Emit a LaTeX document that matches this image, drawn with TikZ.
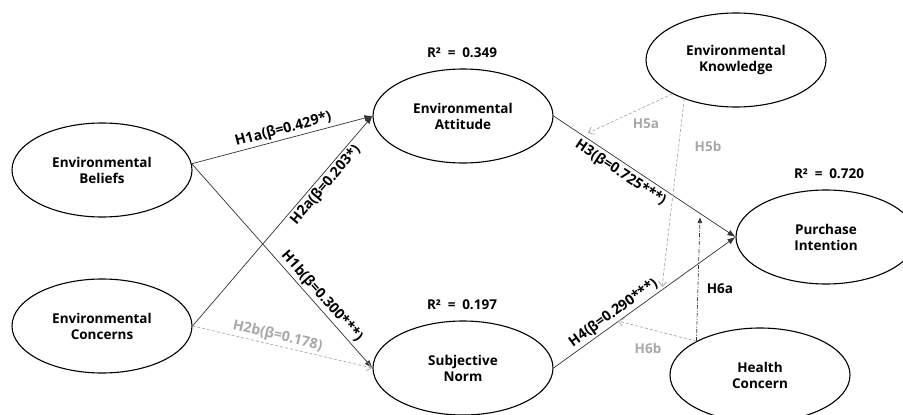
\documentclass[tikz,border=0pt]{standalone}
\usepackage{fontspec}
\setmainfont{Open Sans}
\usetikzlibrary{shapes.geometric,arrows.meta}
\definecolor{lgray}{HTML}{A8A8A8}
\tikzset{
  construct/.style={ellipse,draw=black,line width=1.1pt,minimum width=180pt,minimum height=94pt,inner sep=0pt,align=center,font=\bfseries\fontsize{13.5}{16}\selectfont},
  rlabel/.style={font=\bfseries\fontsize{13.5}{16}\selectfont},
  mainpath/.style={draw=black!80,line width=0.7pt,-{Latex[length=8pt,width=6pt]}},
  nspath/.style={draw=lgray,line width=0.7pt,dash pattern=on 3pt off 2pt,-{Straight Barb[length=5pt,width=8pt]}},
  modpath/.style={draw=black!80,line width=0.7pt,dash pattern=on 4pt off 1.5pt on 1pt off 1.5pt,-{Latex[length=6pt,width=5pt]}},
  elab/.style={font=\bfseries\fontsize{14.2}{16}\selectfont,inner sep=2pt,text=black},
  glab/.style={font=\bfseries\fontsize{13.5}{15}\selectfont,inner sep=2pt,text=lgray},
}
\begin{document}
\begin{tikzpicture}[x=1pt,y=-1pt]
\useasboundingbox (0,0) rectangle (903,415);
\node[construct] (EB) at (102,170) {Environmental\\Beliefs};
\node[construct] (EC) at (102,326) {Environmental\\Concerns};
\node[construct] (EA) at (463,116) {Environmental\\Attitude};
\node[construct] (SN) at (463,368) {Subjective\\Norm};
\node[construct] (EK) at (736,60) {Environmental\\Knowledge};
\node[construct] (PI) at (826,237) {Purchase\\Intention};
\node[construct] (HC) at (760,375) {Health\\Concern};
\node[rlabel] (r1) at (462,53) {R²\hspace{0.5em}=\hspace{0.5em}0.349};
\node[rlabel] (r2) at (462,305) {R²\hspace{0.5em}=\hspace{0.5em}0.197};
\node[rlabel] (r3) at (829,174) {R²\hspace{0.5em}=\hspace{0.5em}0.720};
\coordinate (m5a) at (588,133);
\coordinate (m5b) at (662,287);
\coordinate (m6a) at (700,217);
\coordinate (m6b) at (618,321);
\draw[mainpath] (EB.4) -- (EA.west) node[elab,pos=0.52,sloped,above] {H1a(β=0.429*)};
\draw[mainpath] (EB.4) -- (SN.west) node[elab,pos=0.68,sloped,above] {H1b(β=0.300***)};
\draw[mainpath] (EC.east) -- (EA.west) node[elab,pos=0.70,sloped,below] {H2a(β=0.203*)};
\draw[nspath] (EC.east) -- (SN.west) node[glab,font=\bfseries\fontsize{14.2}{16}\selectfont,pos=0.46,sloped,above] {H2b(β=0.178)};
\draw[mainpath] (EA.east) -- (PI.west) node[elab,pos=0.40,sloped,below,inner sep=3pt] {H3(β=0.725***)};
\draw[mainpath] (SN.east) -- (PI.west) node[elab,pos=0.36,sloped,above] {H4(β=0.290***)};
\draw[nspath] (EK.208) -- (m5a);
\draw[nspath] (EK.217) -- (m5b);
\draw[modpath] (HC.152) -- (m6a);
\draw[nspath] (HC.152) -- (m6b);
\node[glab] (l5a) at (646,124) {H5a};
\node[glab] (l5b) at (708,146) {H5b};
\node[elab,font=\bfseries\fontsize{13.5}{15}\selectfont] (l6a) at (720,289) {H6a};
\node[glab] (l6b) at (648,348) {H6b};
\end{tikzpicture}
\end{document}
